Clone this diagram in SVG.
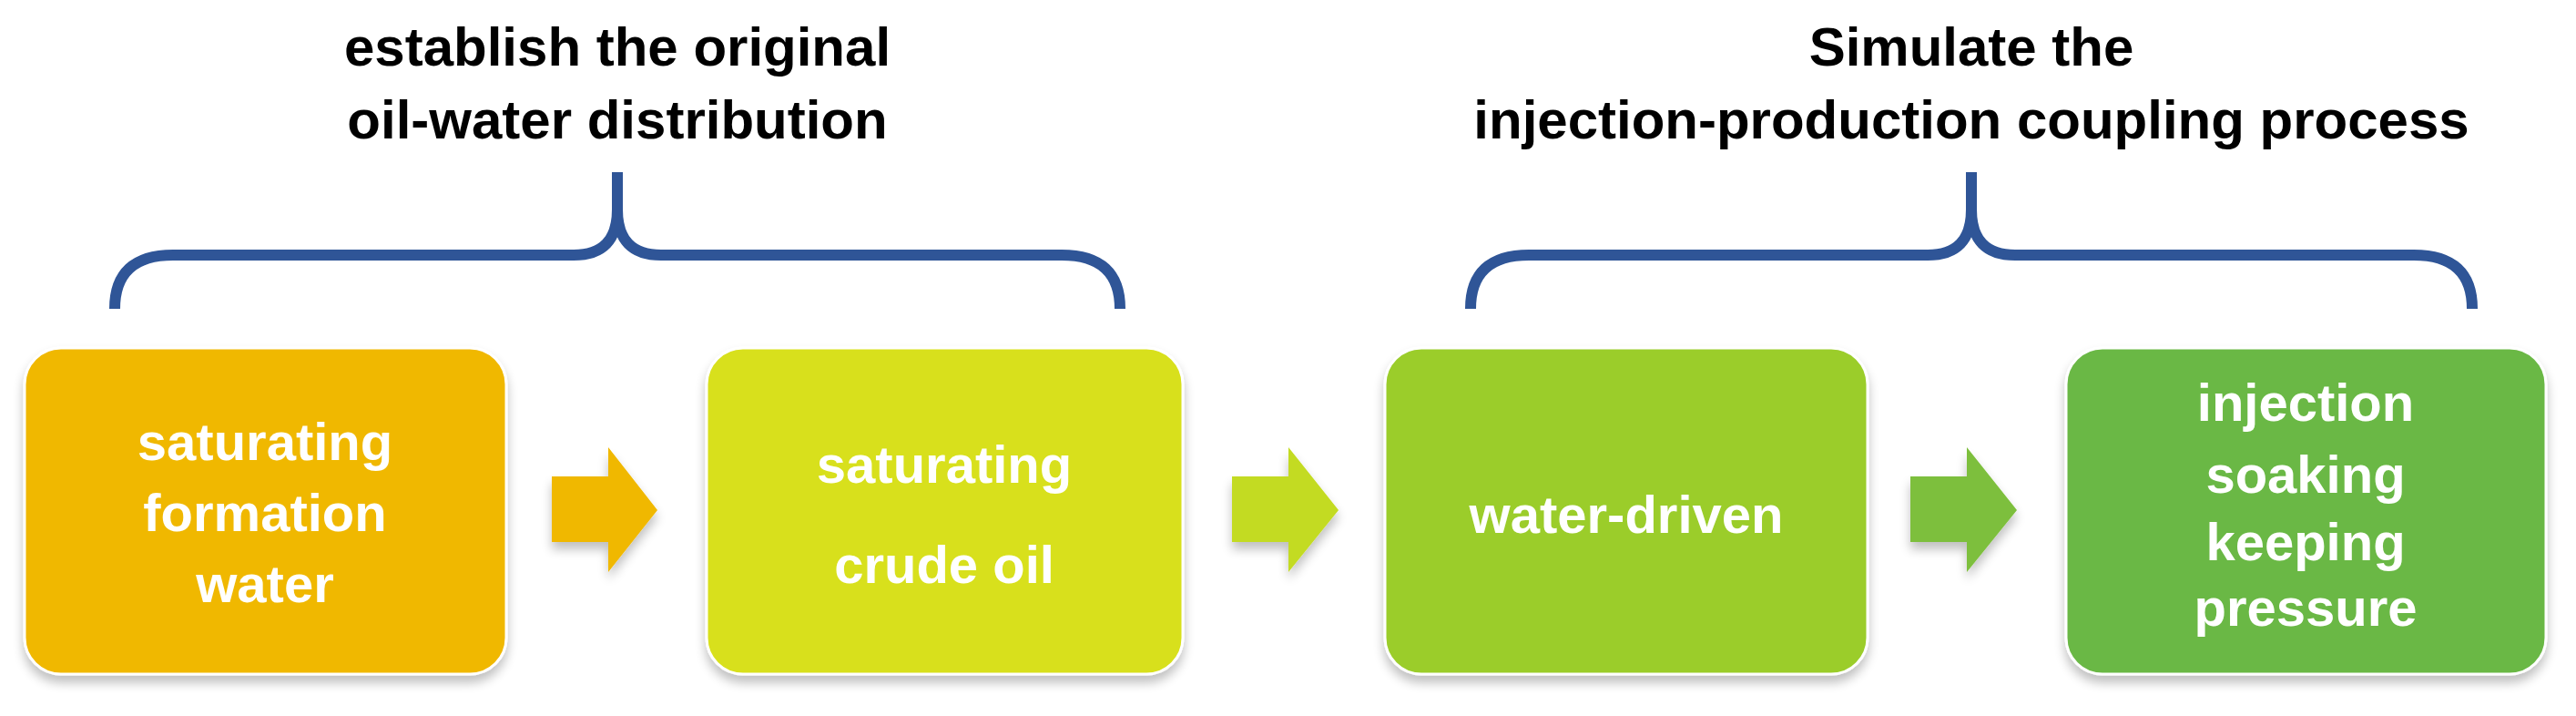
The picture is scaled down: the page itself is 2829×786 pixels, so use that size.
<svg xmlns="http://www.w3.org/2000/svg" width="2829" height="786" viewBox="0 0 2829 786">
<style>
.t{font-family:"Liberation Sans",Arial,sans-serif;font-weight:bold;text-anchor:middle}
.h{font-size:60px;fill:#000}
.n{font-size:58px;fill:#fff}
.br{fill:none;stroke:#2F5597;stroke-width:12;stroke-linecap:butt}
</style>
<defs>
<filter id="sh" x="-10%" y="-10%" width="120%" height="125%">
<feGaussianBlur in="SourceAlpha" stdDeviation="6"/>
<feOffset dy="8"/>
<feComponentTransfer><feFuncA type="linear" slope="0.25"/></feComponentTransfer>
<feMerge><feMergeNode/><feMergeNode in="SourceGraphic"/></feMerge>
</filter>
</defs>
<rect width="2829" height="786" fill="#fff"/>
<g id="title1"><text class="t h" x="678" y="72">establish the original</text><text class="t h" x="678" y="152">oil-water distribution</text></g>
<g id="title2"><text class="t h" x="2165" y="72">Simulate the</text><text class="t h" x="2165" y="152">injection-production coupling process</text></g>
<g id="braces">
<path class="br" d="M126 339 Q126 280 190 280 L630 280 Q678 280 678 230 L678 189 M678 230 Q678 280 726 280 L1166 280 Q1230 280 1230 339"/>
<path class="br" d="M1615 339 Q1615 280 1679 280 L2117 280 Q2165 280 2165 230 L2165 189 M2165 230 Q2165 280 2213 280 L2651 280 Q2715 280 2715 339"/>
</g>
<g id="node1" filter="url(#sh)"><rect x="27" y="382" width="529" height="358" rx="40" fill="#F0B800" stroke="#fff" stroke-width="3"/>
<text class="t n" x="291" y="505">saturating</text><text class="t n" x="291" y="583">formation</text><text class="t n" x="291" y="661">water</text></g>
<g id="node2" filter="url(#sh)"><rect x="776" y="382" width="523" height="358" rx="40" fill="#D8E01A" stroke="#fff" stroke-width="3"/>
<text class="t n" x="1037" y="530">saturating</text><text class="t n" x="1037" y="640">crude oil</text></g>
<g id="node3" filter="url(#sh)"><rect x="1521" y="382" width="530" height="358" rx="40" fill="#9BCD2B" stroke="#fff" stroke-width="3"/>
<text class="t n" x="1786" y="585">water-driven</text></g>
<g id="node4" filter="url(#sh)"><rect x="2269" y="382" width="527" height="358" rx="40" fill="#6BB845" stroke="#fff" stroke-width="3"/>
<text class="t n" x="2532" y="462">injection</text><text class="t n" x="2532" y="541">soaking</text><text class="t n" x="2532" y="615">keeping</text><text class="t n" x="2532" y="687">pressure</text></g>
<g id="connectors" filter="url(#sh)">
<path d="M606 523 L668 523 L668 491 L722 560 L668 628 L668 595 L606 595 Z" fill="#F0B800"/>
<path d="M1353 523 L1415 523 L1415 491 L1470 560 L1415 628 L1415 595 L1353 595 Z" fill="#C3DB22"/>
<path d="M2098 523 L2160 523 L2160 491 L2215 560 L2160 628 L2160 595 L2098 595 Z" fill="#7DBF3C"/>
</g>
</svg>
